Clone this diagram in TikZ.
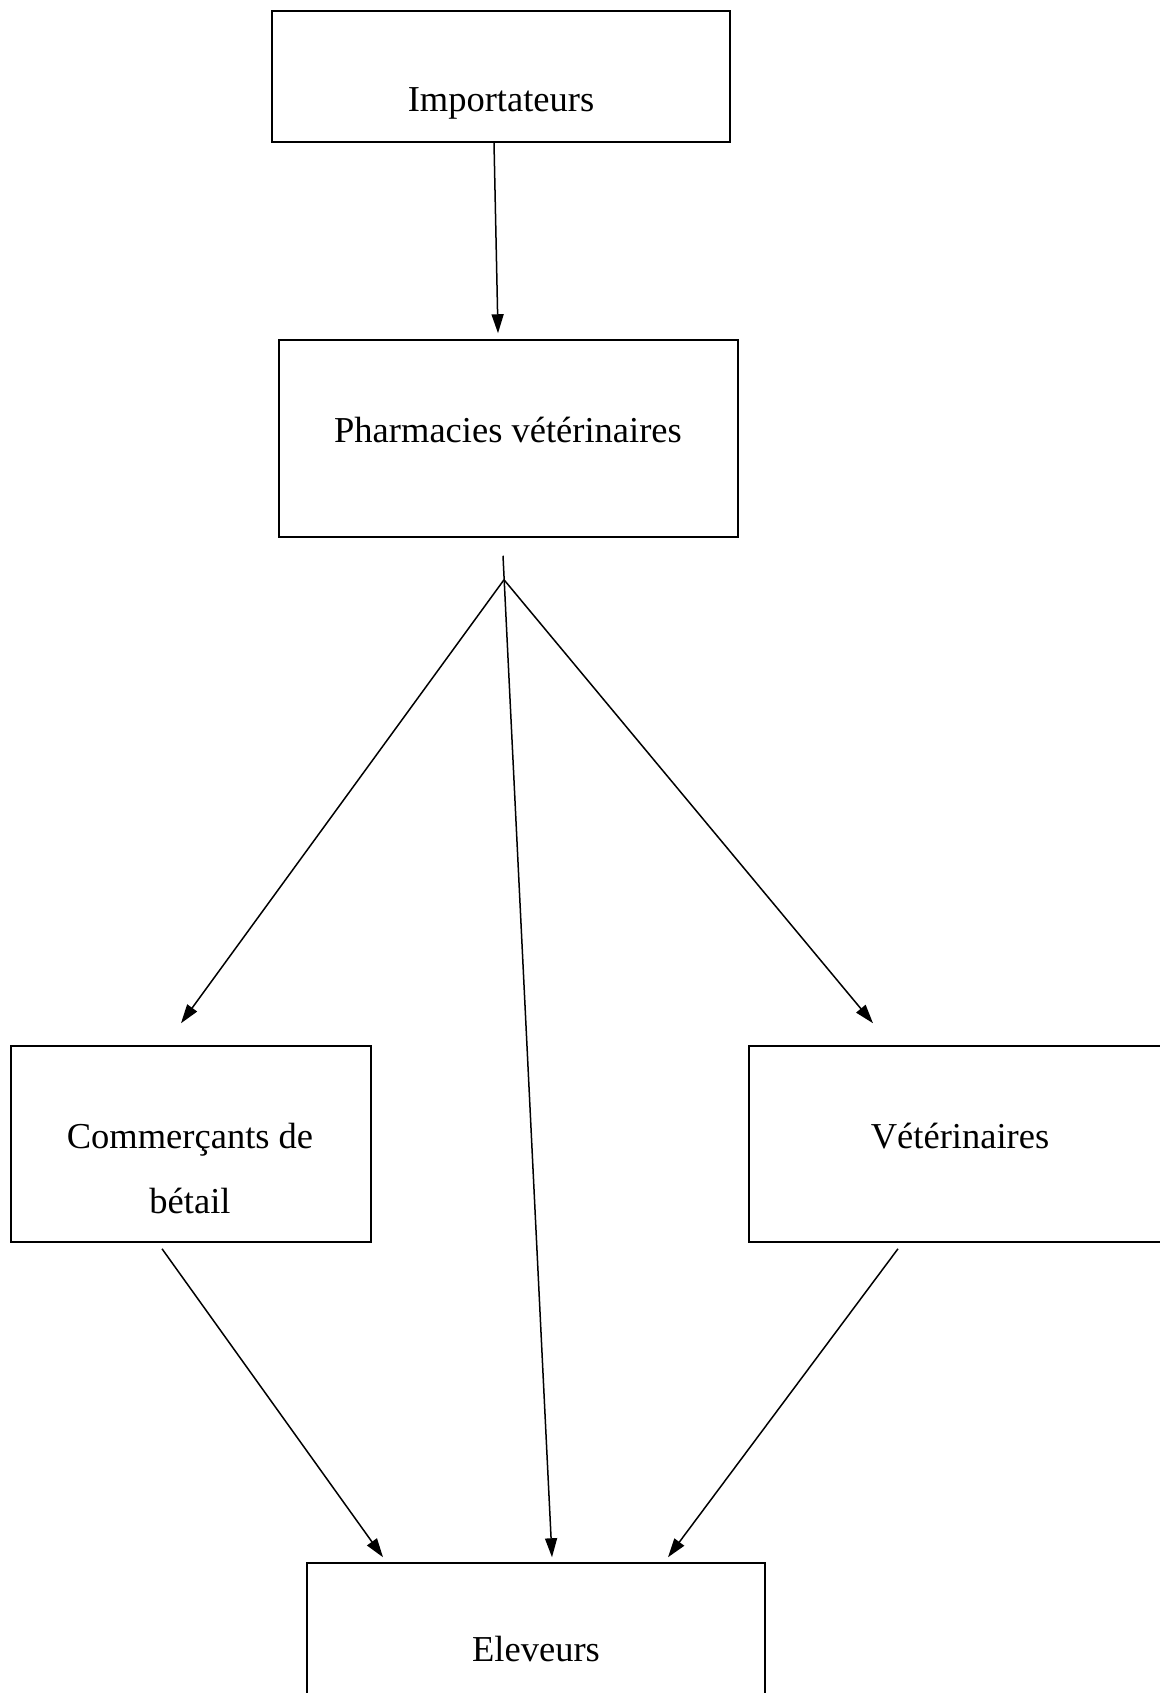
\documentclass[tikz,border=0pt]{standalone}
\usepackage{fontspec}
\setmainfont{Liberation Serif}
\usetikzlibrary{arrows.meta,calc}
\begin{document}
\begin{tikzpicture}[x=1pt,y=-1pt,line width=1.5pt,
  box/.style={draw,rectangle,inner sep=0pt},
  lbl/.style={font=\fontsize{36.5}{62}\selectfont,anchor=base,inner sep=0pt},
  arr/.style={-{Triangle[length=19pt,width=12pt]}}]
\useasboundingbox (0,0) rectangle (1159,1693);
% boxes
\node[box,minimum width=458pt,minimum height=131pt] (imp) at (501,76.5) {};
\node[box,minimum width=459pt,minimum height=197pt] (pha) at (508.5,438.5) {};
\node[box,minimum width=360pt,minimum height=196pt] (com) at (191,1144) {};
\node[box,minimum width=416pt,minimum height=196pt] (vet) at (957,1144) {};
\node[box,minimum width=458pt,minimum height=160pt] (elv) at (536,1643) {};
% texts
\node[lbl] (timp) at (501,112) {Importateurs};
\node[lbl] (tpha) at (508,442) {Pharmacies vétérinaires};
\node[lbl] (tcom1) at (190,1148) {Commerçants de};
\node[lbl] (tcom2) at (190,1213) {bétail};
\node[lbl] (tvet) at (960,1148) {Vétérinaires};
\node[lbl] (telv) at (536,1661) {Eleveurs};
% connectors
\draw[arr] ([xshift=-7pt]imp.south) -- ([xshift=-10.5pt,yshift=6pt]pha.north);
\coordinate (top) at ([xshift=-5.5pt,yshift=-18pt]pha.south);
\coordinate (jn) at ([xshift=-4.5pt,yshift=-42pt]pha.south);
\draw[arr] (top) -- ([xshift=16pt,yshift=5pt]elv.north);
\draw[arr] (jn) -- ([xshift=-10pt,yshift=22pt]com.north);
\draw[arr] (jn) -- ([xshift=-84pt,yshift=22pt]vet.north);
\draw[arr] ([xshift=-29pt,yshift=-6pt]com.south) -- ([xshift=-153pt,yshift=5pt]elv.north);
\draw[arr] ([xshift=-59pt,yshift=-6pt]vet.south) -- ([xshift=132pt,yshift=5pt]elv.north);
\end{tikzpicture}
\end{document}
